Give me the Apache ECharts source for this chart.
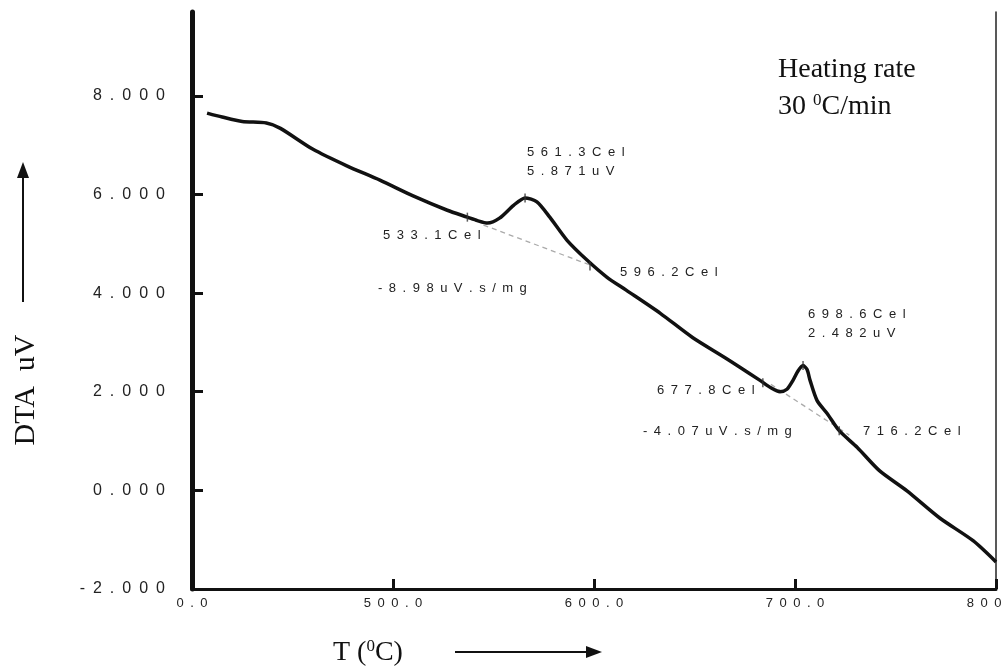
<!DOCTYPE html>
<html><head><meta charset="utf-8">
<script src="https://cdn.jsdelivr.net/npm/echarts@6/dist/echarts.min.js"></script>
<style>html,body{margin:0;padding:0;background:#fff}#c{width:1006px;height:670px}</style>
</head><body><div id="c"></div>
<script>
// Temperature (°C) and DTA signal (uV)
const temps = [407.5, 415, 425, 437, 444, 460, 477, 493.5, 510, 527, 537, 542, 547, 553, 560, 565.7, 571.6, 578, 586.6, 596.5, 606.5, 616, 633, 649, 666, 682.6, 688, 692.5, 696, 699, 701.5, 704, 706, 707.5, 711, 716, 722, 731, 742, 755.7, 772, 788.6, 800];
const dta   = [7.65, 7.57, 7.48, 7.45, 7.34, 6.92, 6.58, 6.29, 5.97, 5.68, 5.54, 5.47, 5.42, 5.52, 5.78, 5.93, 5.85, 5.54, 5.07, 4.67, 4.32, 4.06, 3.59, 3.10, 2.67, 2.23, 2.08, 2.00, 2.05, 2.23, 2.42, 2.53, 2.45, 2.23, 1.82, 1.56, 1.21, 0.87, 0.40, -0.01, -0.56, -1.02, -1.45];
// extrapolated baselines (dashed)
const base1T = [545, 598];   const base1V = [5.38, 4.57];
const base2T = [688, 727];   const base2V = [2.15, 1.12];
// instrument event marks
const markT = [537, 565.7, 598, 684, 704, 722];
const markV = [5.54, 5.93, 4.55, 2.18, 2.53, 1.21];
// axis ticks
const xTickValues = [400, 500, 600, 700, 800];
const xTickTexts  = ['0.0', '500.0', '600.0', '700.0', '800.0'];
const yTickValues = [-2, 0, 2, 4, 6, 8];
const yTickTexts  = ['-2.000', '0.000', '2.000', '4.000', '6.000', '8.000'];
// annotations
const annotTexts = ['561.3Cel', '5.871uV', '533.1Cel', '596.2Cel', '-8.98uV.s/mg', '698.6Cel', '2.482uV', '677.8Cel', '-4.07uV.s/mg', '716.2Cel'];
const annotPos = [[527,154],[527,173],[383,237],[620,274],[378,290],[808,316],[808,335],[657,392],[643,433],[863,433]];

const sp = s => s.split('').join('\u2002');
const zip = (a, b) => a.map((v, i) => [v, b[i]]);

const chart = echarts.init(document.getElementById('c'), null, {renderer: 'canvas'});

const serif = '"Liberation Serif", "Times New Roman", serif';
const graphics = annotTexts.map((t, i) => ({
  type: 'text', left: annotPos[i][0], top: annotPos[i][1] - 8,
  style: {text: sp(t), font: '13px "Liberation Sans", Arial, sans-serif', fill: '#222'}
}));
// y-axis name + arrow
graphics.push({
  type: 'text', x: 26, y: 390, rotation: Math.PI / 2,
  style: {text: 'DTA\u2002uV', font: '30px ' + serif, fill: '#111', align: 'center', verticalAlign: 'middle'}
});
graphics.push({type: 'line', shape: {x1: 23, y1: 302, x2: 23, y2: 176}, style: {stroke: '#111', lineWidth: 2}});
graphics.push({type: 'polygon', shape: {points: [[23, 162], [17, 178], [29, 178]]}, style: {fill: '#111'}});
// x-axis name + arrow
graphics.push({
  type: 'text', left: 333, top: 638,
  style: {
    rich: {n: {font: '28px ' + serif, fill: '#111'},
           s: {font: '17px ' + serif, fill: '#111', verticalAlign: 'top', padding: [0, 0, 12, 0]}},
    text: '{n|T (}{s|0}{n|C)}'
  }
});
graphics.push({type: 'line', shape: {x1: 455, y1: 652, x2: 588, y2: 652}, style: {stroke: '#111', lineWidth: 2}});
graphics.push({type: 'polygon', shape: {points: [[602, 652], [586, 646], [586, 658]]}, style: {fill: '#111'}});
// heating rate text
graphics.push({
  type: 'text', left: 778, top: 56,
  style: {text: 'Heating rate', font: '28px ' + serif, fill: '#111'}
});
graphics.push({
  type: 'text', left: 778, top: 92,
  style: {
    rich: {n: {font: '28px ' + serif, fill: '#111'},
           s: {font: '17px ' + serif, fill: '#111', verticalAlign: 'top', padding: [0, 0, 12, 0]}},
    text: '{n|30 }{s|0}{n|C/min}'
  }
});

chart.setOption({
  animation: false,
  backgroundColor: '#fff',
  grid: {left: 192, top: 12, width: 804, height: 577, containLabel: false, outerBoundsMode: 'none'},
  xAxis: {
    type: 'value', min: 400, max: 800, interval: 100,
    axisLine: {show: true, onZero: false, lineStyle: {color: '#111', width: 3}},
    axisTick: {show: true, inside: true, length: 10, lineStyle: {color: '#111', width: 3}},
    axisLabel: {
      margin: 8, color: '#222', fontSize: 13, fontFamily: '"Liberation Sans", Arial, sans-serif',
      hideOverlap: false,
      formatter: v => { const i = xTickValues.indexOf(v); return i >= 0 ? sp(xTickTexts[i]) : ''; }
    },
    splitLine: {show: false}
  },
  yAxis: [{
    type: 'value', min: -2, max: 9.7, position: 'left',
    axisLine: {show: true, onZero: false, lineStyle: {color: '#111', width: 5}},
    axisTick: {show: true, inside: true, length: 11, customValues: yTickValues, lineStyle: {color: '#111', width: 3}},
    axisLabel: {
      margin: 27, color: '#222', fontSize: 16, fontFamily: '"Liberation Sans", Arial, sans-serif',
      customValues: yTickValues,
      formatter: v => { const i = yTickValues.indexOf(v); return i >= 0 ? sp(yTickTexts[i]) : ''; }
    },
    splitLine: {show: false}
  }, {
    type: 'value', min: -2, max: 9.7, position: 'right',
    axisLine: {show: true, onZero: false, lineStyle: {color: '#222', width: 1.5}},
    axisTick: {show: false}, axisLabel: {show: false}, splitLine: {show: false}
  }],
  series: [{
    type: 'line', data: zip(temps, dta), smooth: 0.25, showSymbol: false,
    lineStyle: {color: '#111', width: 3.5}, z: 5
  }, {
    type: 'line', data: zip(base1T, base1V), showSymbol: false,
    lineStyle: {color: '#aaa', width: 1.3, type: [5, 4]}
  }, {
    type: 'line', data: zip(base2T, base2V), showSymbol: false,
    lineStyle: {color: '#aaa', width: 1.3, type: [5, 4]}
  }, {
    type: 'scatter', data: zip(markT, markV), symbol: 'rect', symbolSize: [1.5, 9],
    itemStyle: {color: '#333'}, z: 6
  }],
  graphic: graphics
});
</script>
</body></html>
